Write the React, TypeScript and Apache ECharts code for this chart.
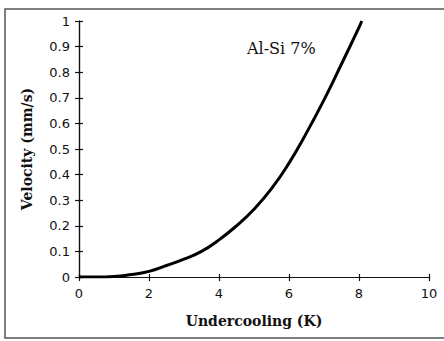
import React, { useEffect, useRef } from "react";
import * as echarts from "echarts";

const undercooling = [0, 0.5, 1, 1.5, 2, 2.5, 3, 3.5, 4, 4.5, 5, 5.5, 6, 6.5, 7, 7.5, 8, 8.08];
const velocity = [0, 0, 0.002, 0.01, 0.022, 0.045, 0.07, 0.1, 0.145, 0.2, 0.265, 0.345, 0.445, 0.563, 0.692, 0.832, 0.975, 1.0];
const xTicks = [0, 2, 4, 6, 8, 10];
const yTicks = [0, 0.1, 0.2, 0.3, 0.4, 0.5, 0.6, 0.7, 0.8, 0.9, 1];
const xTitle = "Undercooling (K)";
const yTitle = "Velocity (mm/s)";
const seriesLabel = "Al-Si 7%";

export default function App() {
  const ref = useRef<HTMLDivElement>(null);
  useEffect(() => {
    document.body.style.margin = "0";
    const chart = echarts.init(ref.current!, null, { renderer: "svg" });
    const labelStyle = {
      color: "#111",
      fontFamily: "DejaVu Sans",
      fontSize: 13,
    };
    const baseX = {
      type: "value" as const,
      min: xTicks[0],
      max: xTicks[xTicks.length - 1],
      interval: 2,
      splitLine: { show: false },
      axisLine: { show: true, lineStyle: { color: "#111", width: 1.2 } },
    };
    const baseY = {
      type: "value" as const,
      min: yTicks[0],
      max: yTicks[yTicks.length - 1],
      interval: 0.1,
      splitLine: { show: false },
      axisLine: { show: true, lineStyle: { color: "#111", width: 1.2 } },
    };
    chart.setOption({
      animation: false,
      backgroundColor: "#fff",
      grid: { left: 79, right: 15, top: 21, bottom: 64, containLabel: false },
      xAxis: [
        {
          ...baseX,
          name: xTitle,
          nameLocation: "middle",
          nameGap: 37,
          nameTextStyle: {
            fontFamily: "DejaVu Serif",
            fontWeight: "bold",
            fontSize: 14,
            color: "#111",
          },
          axisTick: { show: true, inside: false, length: 4, lineStyle: { color: "#111", width: 1.2 } },
          axisLabel: { ...labelStyle, margin: 10 },
        },
        {
          ...baseX,
          position: "bottom",
          axisTick: { show: true, inside: true, length: 3, lineStyle: { color: "#111", width: 1.2 } },
          axisLabel: { show: false },
        },
      ],
      yAxis: [
        {
          ...baseY,
          name: yTitle,
          nameLocation: "middle",
          nameGap: 45,
          nameRotate: 90,
          nameTextStyle: {
            fontFamily: "DejaVu Serif",
            fontWeight: "bold",
            fontSize: 14,
            color: "#111",
          },
          axisTick: { show: true, inside: false, length: 4, lineStyle: { color: "#111", width: 1.2 } },
          axisLabel: { ...labelStyle, margin: 9 },
        },
        {
          ...baseY,
          position: "left",
          axisTick: { show: true, inside: true, length: 4, lineStyle: { color: "#111", width: 1.2 } },
          axisLabel: { show: false },
        },
      ],
      series: [
        {
          type: "line",
          data: undercooling.map((x, i) => [x, velocity[i]]),
          showSymbol: false,
          smooth: 0.5,
          lineStyle: { color: "#000", width: 3 },
          xAxisIndex: 0,
          yAxisIndex: 0,
        },
      ],
      graphic: [
        {
          type: "rect",
          shape: { x: 5, y: 9, width: 460, height: 329 },
          style: { fill: "none", stroke: "#555", lineWidth: 1.5 },
          silent: true,
        },
        {
          type: "text",
          left: 247,
          top: 40,
          style: {
            text: seriesLabel,
            fontFamily: "DejaVu Serif",
            fontSize: 16,
            fill: "#111",
          },
        },
      ],
    });
    return () => chart.dispose();
  }, []);
  return <div ref={ref} style={{ width: 444, height: 341 }} />;
}
